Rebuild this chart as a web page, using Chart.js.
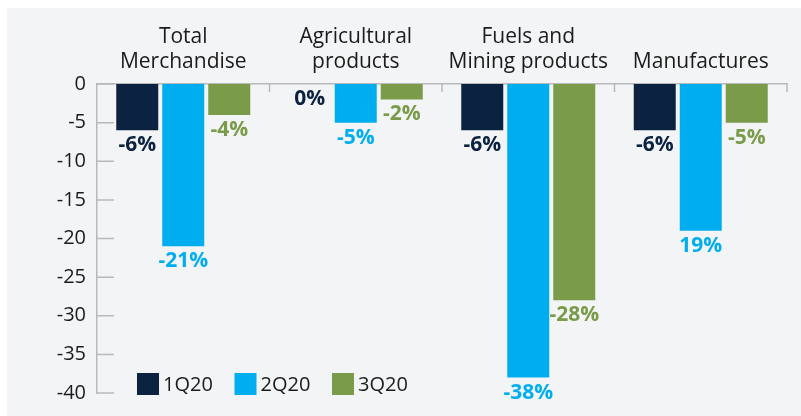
<!DOCTYPE html>
<html>
<head>
<meta charset="utf-8">
<script src="https://cdn.jsdelivr.net/npm/chart.js@4/dist/chart.umd.min.js"></script>
<style>
  body { margin: 0; background: #fff; }
  #bg { position: absolute; left: 7px; top: 8px; right: 0; bottom: 0; background: #f3f4f6; }
  #wrap { position: absolute; left: 0; top: 0; width: 801px; height: 416px; }
</style>
</head>
<body>
<div id="bg"></div>
<div id="wrap"><canvas id="myChart" width="801" height="416"></canvas></div>
<script>
// categories and series (percent change)
const categories = [["Total", "Merchandise"], ["Agricultural", "products"], ["Fuels and", "Mining products"], ["Manufactures"]];
const q1 = [-6, 0, -6, -6];
const q2 = [-21, -5, -38, -19];
const q3 = [-4, -2, -28, -5];
// printed labels (kept as they appear in the picture)
const q1Labels = ["-6%", "0%", "-6%", "-6%"];
const q2Labels = ["-21%", "-5%", "-38%", "19%"];
const q3Labels = ["-4%", "-2%", "-28%", "-5%"];
const yTicks = [0, -5, -10, -15, -20, -25, -30, -35, -40];

const FONT = "'Open Sans', 'Noto Sans', sans-serif";
const TEXT = '#1b1b1b';
const AXIS = '#b9b9b9';
const labelSets = [q1Labels, q2Labels, q3Labels];

// value labels under each bar
const barLabels = {
  id: 'barLabels',
  afterDatasetsDraw(chart) {
    const ctx = chart.ctx;
    ctx.save();
    ctx.font = 'bold 21px ' + FONT;
    ctx.textAlign = 'center';
    ctx.textBaseline = 'middle';
    chart.data.datasets.forEach((ds, di) => {
      const meta = chart.getDatasetMeta(di);
      meta.data.forEach((el, i) => {
        ctx.fillStyle = ds.backgroundColor;
        ctx.fillText(labelSets[di][i], el.x, el.y + 15);
      });
    });
    ctx.restore();
  }
};

// short inner tick marks on both axes
const innerTicks = {
  id: 'innerTicks',
  afterDraw(chart) {
    const ctx = chart.ctx;
    const xs = chart.scales.x, ys = chart.scales.y;
    ctx.save();
    ctx.strokeStyle = AXIS;
    ctx.lineWidth = 1.5;
    ctx.beginPath();
    yTicks.forEach(v => {
      const py = ys.getPixelForValue(v);
      ctx.moveTo(xs.left, py);
      ctx.lineTo(xs.left + 17, py);
    });
    for (let i = 1; i <= categories.length; i++) {
      const px = xs.getPixelForValue(i - 0.5);
      ctx.moveTo(px, ys.top);
      ctx.lineTo(px, ys.top + 8);
    }
    ctx.stroke();
    ctx.restore();
  }
};

// legend drawn inside the plot, bottom left
const insideLegend = {
  id: 'insideLegend',
  afterDraw(chart) {
    const ctx = chart.ctx;
    const a = chart.chartArea;
    ctx.save();
    ctx.font = '20px ' + FONT;
    ctx.textBaseline = 'middle';
    chart.data.datasets.forEach((ds, i) => {
      const x = a.left + 40 + i * 97.5;
      const y = a.bottom - 20;
      ctx.fillStyle = ds.backgroundColor;
      ctx.fillRect(x, y, 22, 22);
      ctx.fillStyle = TEXT;
      ctx.fillText(ds.label, x + 26, y + 12);
    });
    ctx.restore();
  }
};

let myChart = document.getElementById("myChart").getContext("2d");
let tradeChart = new Chart(myChart, {
  type: 'bar',
  data: {
    labels: categories,
    datasets: [
      { label: '1Q20', data: q1, backgroundColor: '#0b2240' },
      { label: '2Q20', data: q2, backgroundColor: '#00aeef' },
      { label: '3Q20', data: q3, backgroundColor: '#799b4a' }
    ]
  },
  options: {
    responsive: false,
    animation: false,
    categoryPercentage: 0.8,
    barPercentage: 0.913,
    layout: { padding: { left: 0, top: 0, right: 14, bottom: 23 } },
    plugins: {
      legend: { display: false },
      tooltip: { enabled: false }
    },
    scales: {
      x: {
        position: 'top',
        grid: { display: false, drawTicks: false },
        border: { display: true, color: AXIS, width: 1.5 },
        ticks: { color: TEXT, font: { family: FONT, size: 21 }, padding: 9, maxRotation: 0, autoSkip: false },
        afterFit(scale) { scale.height = 84; }
      },
      y: {
        min: -40,
        max: 0,
        grid: { display: false, drawTicks: false },
        border: { display: true, color: AXIS, width: 1.5 },
        ticks: { stepSize: 5, color: TEXT, font: { family: FONT, size: 20 }, padding: 11 },
        afterFit(scale) { scale.width = 97; }
      }
    }
  },
  plugins: [barLabels, innerTicks, insideLegend]
});
</script>
</body>
</html>
